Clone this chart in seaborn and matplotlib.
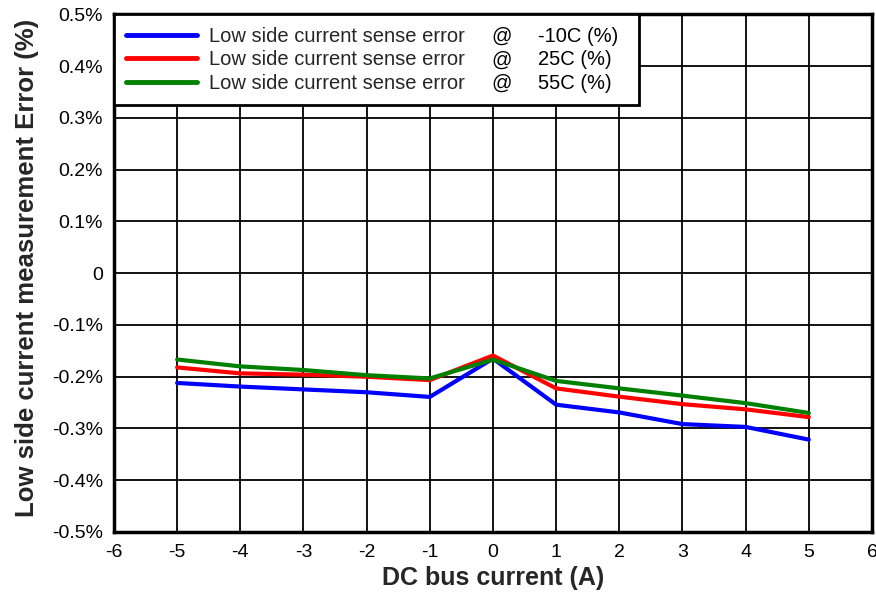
import numpy as np
import pandas as pd
import seaborn as sns
import matplotlib
matplotlib.use("Agg")
import matplotlib.pyplot as plt
from matplotlib.ticker import FuncFormatter

# DC bus current (A)
current = [-5, -4, -3, -2, -1, 0, 1, 2, 3, 4, 5]
# Measurement error (%) per temperature
err_m10 = [-0.212, -0.219, -0.2245, -0.230, -0.239, -0.165, -0.254, -0.269, -0.2915, -0.297, -0.3215]
err_25 = [-0.182, -0.1935, -0.196, -0.200, -0.2065, -0.159, -0.2225, -0.2385, -0.253, -0.263, -0.278]
err_55 = [-0.1667, -0.180, -0.187, -0.197, -0.2033, -0.167, -0.208, -0.2225, -0.2365, -0.251, -0.270]

series_name = "Low side current sense error"
temps = ["-10C (%)", "25C (%)", "55C (%)"]
series_keys = [f"{series_name} @ {t}" for t in temps]
colors = ["#0000ff", "#ff0000", "#008000"]

df = pd.DataFrame({
    "current": current * 3,
    "error": err_m10 + err_25 + err_55,
    "series": [series_keys[0]] * len(current)
              + [series_keys[1]] * len(current)
              + [series_keys[2]] * len(current),
})

sns.set_theme(style="white")
plt.rcParams["font.family"] = ["Liberation Sans", "DejaVu Sans"]
plt.rcParams["axes.unicode_minus"] = False

fig = plt.figure(figsize=(8.76, 5.94), dpi=100)
ax = fig.add_axes([0.1301, 0.1044, 0.8653, 0.8712])

sns.lineplot(data=df, x="current", y="error", hue="series",
             palette=colors, linewidth=3.0, ax=ax, legend=True)

ax.set_xlim(-6, 6)
ax.set_ylim(-0.5, 0.5)
ax.set_xticks(np.arange(-6, 7, 1))
ax.set_yticks(np.round(np.arange(-0.5, 0.51, 0.1), 1))


def pct(v, _):
    if abs(v) < 1e-9:
        return "0"
    return f"{v:.1f}%"


ax.yaxis.set_major_formatter(FuncFormatter(pct))
ax.grid(True, color="black", linewidth=1.3)
ax.set_axisbelow(True)
for s in ax.spines.values():
    s.set_color("black")
    s.set_linewidth(2.5)
ax.tick_params(axis="both", length=0, labelsize=14, colors="black")
ax.tick_params(axis="x", pad=9)
ax.tick_params(axis="y", pad=8)

ax.set_xlabel("DC bus current (A)", fontsize=18, fontweight="bold", labelpad=3)
ax.set_ylabel("Low side current measurement Error (%)", fontsize=18.5,
              fontweight="bold")
ax.yaxis.set_label_coords(-0.099, 0.51)

# Legend: series name in the legend itself, "@" and temperature as aligned columns
leg = ax.legend(loc="upper left", bbox_to_anchor=(0, 0, 0.6926, 1), mode="expand",
                frameon=True, fancybox=False, framealpha=1, edgecolor="black",
                fontsize=14.5, handlelength=3.5, handletextpad=0.6, borderpad=0.62,
                labelspacing=0.22, borderaxespad=0)
leg.get_frame().set_linewidth(2.0)
for line in leg.get_lines():
    line.set_linewidth(3.5)
for txt in leg.get_texts():
    txt.set_text(series_name)

fig.canvas.draw()
renderer = fig.canvas.get_renderer()
for txt, temp in zip(leg.get_texts(), temps):
    bb = txt.get_window_extent(renderer)
    yc = (bb.y0 + bb.y1) / 2
    fig.text(491 / 876, yc / fig.bbox.height, "@", fontsize=14.5,
             va="center", ha="left", color="black")
    fig.text(538 / 876, yc / fig.bbox.height, temp, fontsize=14.5,
             va="center", ha="left", color="black")

fig.savefig("out.png", dpi=100, facecolor="white")
